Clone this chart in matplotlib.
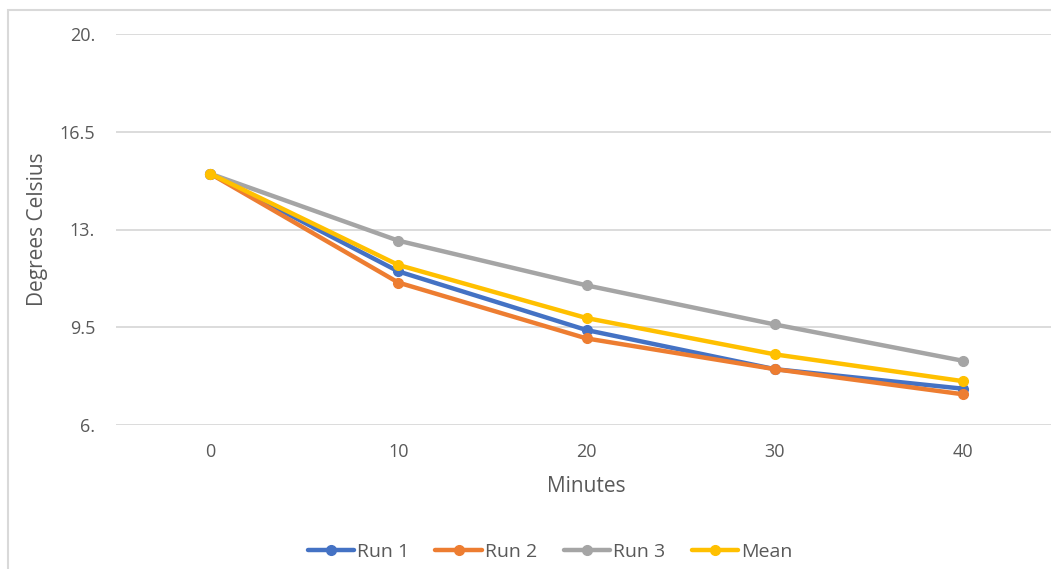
import matplotlib
matplotlib.use("Agg")
import matplotlib.pyplot as plt
from matplotlib.patches import Rectangle

minutes = ["0", "10", "20", "30", "40"]
run1 = [15.0, 11.5, 9.4, 8.0, 7.3]
run2 = [15.0, 11.1, 9.1, 8.0, 7.1]
run3 = [15.0, 12.6, 11.0, 9.6, 8.3]
mean = [15.0, 11.73, 9.83, 8.53, 7.57]
series_names = ["Run 1", "Run 2", "Run 3", "Mean"]
colors = ["#4472C4", "#ED7D31", "#A5A5A5", "#FFC000"]
yticks = [6, 9.5, 13, 16.5, 20]
ytick_labels = ["6.", "9.5", "13.", "16.5", "20."]

plt.rcParams['font.family'] = ['Open Sans', 'DejaVu Sans']
W, H = 1051, 569
fig = plt.figure(figsize=(W/100, H/100), dpi=100)
fig.patches.append(Rectangle((8/W, -0.1), 1.2, (569-10)/H + 0.1, transform=fig.transFigure,
                             fill=False, edgecolor="#D9D9D9", linewidth=1.5))

ax = fig.add_axes([116/W, (569-425)/H, 941/W, (425-34)/H])
x = list(range(len(minutes)))
for name, vals, c in zip(series_names, [run1, run2, run3, mean], colors):
    ax.plot(x, vals, color=c, linewidth=3.2, marker='o', markersize=7, label=name,
            solid_capstyle='round')

ax.set_xlim(-0.5, 4.5)
ax.set_ylim(6, 20)
ax.set_yticks(yticks)
ax.set_yticklabels(ytick_labels)
ax.set_xticks(x)
ax.set_xticklabels(minutes)
ax.grid(axis='y', color='#D9D9D9', linewidth=1.3)
ax.set_axisbelow(True)
for s in ax.spines.values():
    s.set_visible(False)
ax.tick_params(length=0, labelsize=13, labelcolor='#595959')
ax.tick_params(axis='x', pad=13)
ax.tick_params(axis='y', pad=15)
ax.set_xlabel("Minutes", fontsize=15, color='#595959', labelpad=11)
ax.set_ylabel("Degrees Celsius", fontsize=15, color='#595959', labelpad=8)

fig.legend(loc='center', bbox_to_anchor=(550/W, 1 - 552/H), ncol=4, frameon=False,
           fontsize=14, labelcolor='#595959', handlelength=2.4, handletextpad=0.15,
           columnspacing=1.35)

fig.savefig("out.png", dpi=100)
